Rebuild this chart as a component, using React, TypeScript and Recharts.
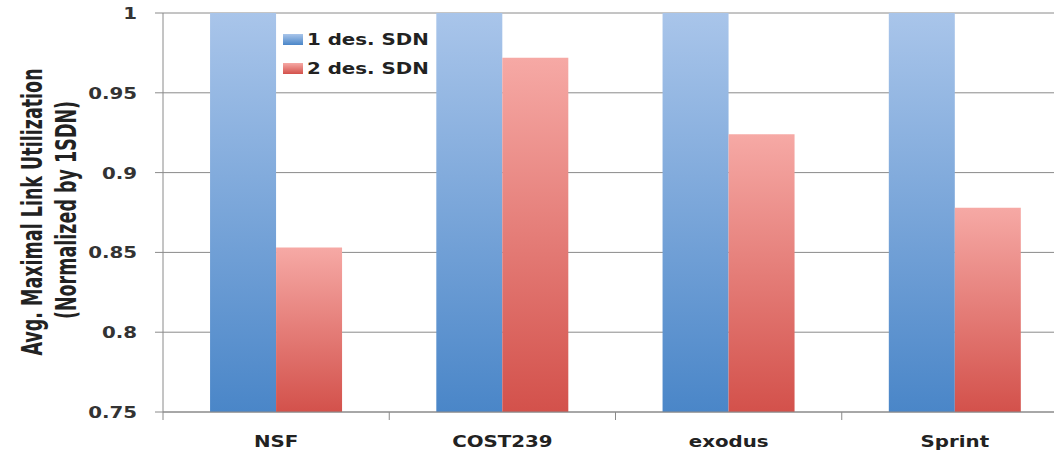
import React from "react";
import {
  BarChart,
  Bar,
  XAxis,
  YAxis,
  CartesianGrid,
  Legend,
} from "recharts";

const categories = ["NSF", "COST239", "exodus", "Sprint"];
const oneDesSdn = [1, 1, 1, 1];
const twoDesSdn = [0.853, 0.972, 0.924, 0.878];
const yTicks = [0.75, 0.8, 0.85, 0.9, 0.95, 1];
const seriesNames = ["1 des. SDN", "2 des. SDN"];
const titleLines = ["Avg. Maximal Link Utilization", "(Normalized by 1SDN)"];

const chartData = categories.map((name, i) => ({
  name,
  one: oneDesSdn[i],
  two: twoDesSdn[i],
}));

const CHART_W = 1080;
const CHART_H = 452;
const Y_AXIS_W = 163;
const RIGHT = 12;
const PLOT_W = CHART_W - Y_AXIS_W - RIGHT;

const FONT = "'DejaVu Sans', Verdana, sans-serif";
const AXIS_GREY = "#8a8a8a";

const blue = { top: "#a9c5ea", bottom: "#4a86c8" };
const red = { top: "#f6a9a5", bottom: "#d3514b" };

const YTick = (props: any) => {
  const { x, y, payload } = props;
  return (
    <g transform={`translate(${x},${y})`}>
      <text
        transform="scale(1.2,1)"
        textAnchor="end"
        dy="0.36em"
        fontFamily={FONT}
        fontWeight="bold"
        fontSize={16.5}
        fill="#333"
      >
        {payload.value}
      </text>
    </g>
  );
};

const XTick = (props: any) => {
  const { x, y, payload } = props;
  const half = PLOT_W / categories.length / 2;
  return (
    <g transform={`translate(${x},${y})`}>
      <line x1={-half} x2={-half} y1={0} y2={8} stroke={AXIS_GREY} />
      <text
        transform="scale(1.2,1)"
        x={0}
        y={35}
        textAnchor="middle"
        fontFamily={FONT}
        fontWeight="bold"
        fontSize={16.5}
        fill="#222"
      >
        {payload.value}
      </text>
    </g>
  );
};

const YTitle = () => (
  <g>
    <text
      transform="translate(42,212) rotate(-90) scale(0.73,1.2)"
      textAnchor="middle"
      fontFamily={FONT}
      fontWeight="bold"
      fontSize={24}
      fill="#222"
    >
      {titleLines[0]}
    </text>
    <text
      transform="translate(76,210) rotate(-90) scale(0.73,1.2)"
      textAnchor="middle"
      fontFamily={FONT}
      fontWeight="bold"
      fontSize={24}
      fill="#222"
    >
      {titleLines[1]}
    </text>
  </g>
);

const LegendBox = () => {
  const colors = [blue, red];
  return (
    <div>
      {seriesNames.map((s, i) => (
        <div
          key={s}
          style={{ display: "flex", alignItems: "center", height: 29 }}
        >
          <span
            style={{
              display: "inline-block",
              width: 20,
              height: 11,
              background: `linear-gradient(to bottom, ${colors[i].top}, ${colors[i].bottom})`,
              marginRight: 4,
            }}
          />
          <span
            style={{
              fontFamily: FONT,
              fontWeight: "bold",
              fontSize: 16.5,
              color: "#222",
              transform: "scaleX(1.2)",
              transformOrigin: "left center",
              whiteSpace: "nowrap",
              display: "inline-block",
            }}
          >
            {s}
          </span>
        </div>
      ))}
    </div>
  );
};

export default function App() {
  return (
    <div
      style={{
        position: "fixed",
        left: 0,
        top: 0,
        width: 1054,
        height: 452,
        overflow: "hidden",
        background: "#fff",
      }}
    >
      <BarChart
        width={CHART_W}
        height={CHART_H}
        data={chartData}
        margin={{ top: 13, right: RIGHT, left: 0, bottom: 0 }}
        barCategoryGap="20.8%"
        barGap={0}
      >
        <defs>
          <linearGradient id="gBlue" x1="0" y1="0" x2="0" y2="1">
            <stop offset="0%" stopColor={blue.top} />
            <stop offset="100%" stopColor={blue.bottom} />
          </linearGradient>
          <linearGradient id="gRed" x1="0" y1="0" x2="0" y2="1">
            <stop offset="0%" stopColor={red.top} />
            <stop offset="100%" stopColor={red.bottom} />
          </linearGradient>
        </defs>
        <CartesianGrid vertical={false} stroke={AXIS_GREY} />
        <XAxis
          dataKey="name"
          height={40}
          tickSize={0}
          tickMargin={0}
          tickLine={false}
          stroke={AXIS_GREY}
          tick={<XTick />}
          interval={0}
        />
        <YAxis
          width={Y_AXIS_W}
          domain={[0.75, 1]}
          ticks={yTicks}
          tickSize={8}
          tickMargin={18}
          stroke={AXIS_GREY}
          tick={<YTick />}
          label={{ content: () => <YTitle /> }}
          interval={0}
        />
        <Legend
          layout="vertical"
          align="center"
          verticalAlign="middle"
          wrapperStyle={{ left: 283, top: 25, width: "auto" }}
          content={() => <LegendBox />}
        />
        <Bar
          dataKey="one"
          name={seriesNames[0]}
          fill="url(#gBlue)"
          isAnimationActive={false}
        />
        <Bar
          dataKey="two"
          name={seriesNames[1]}
          fill="url(#gRed)"
          isAnimationActive={false}
        />
      </BarChart>
    </div>
  );
}
